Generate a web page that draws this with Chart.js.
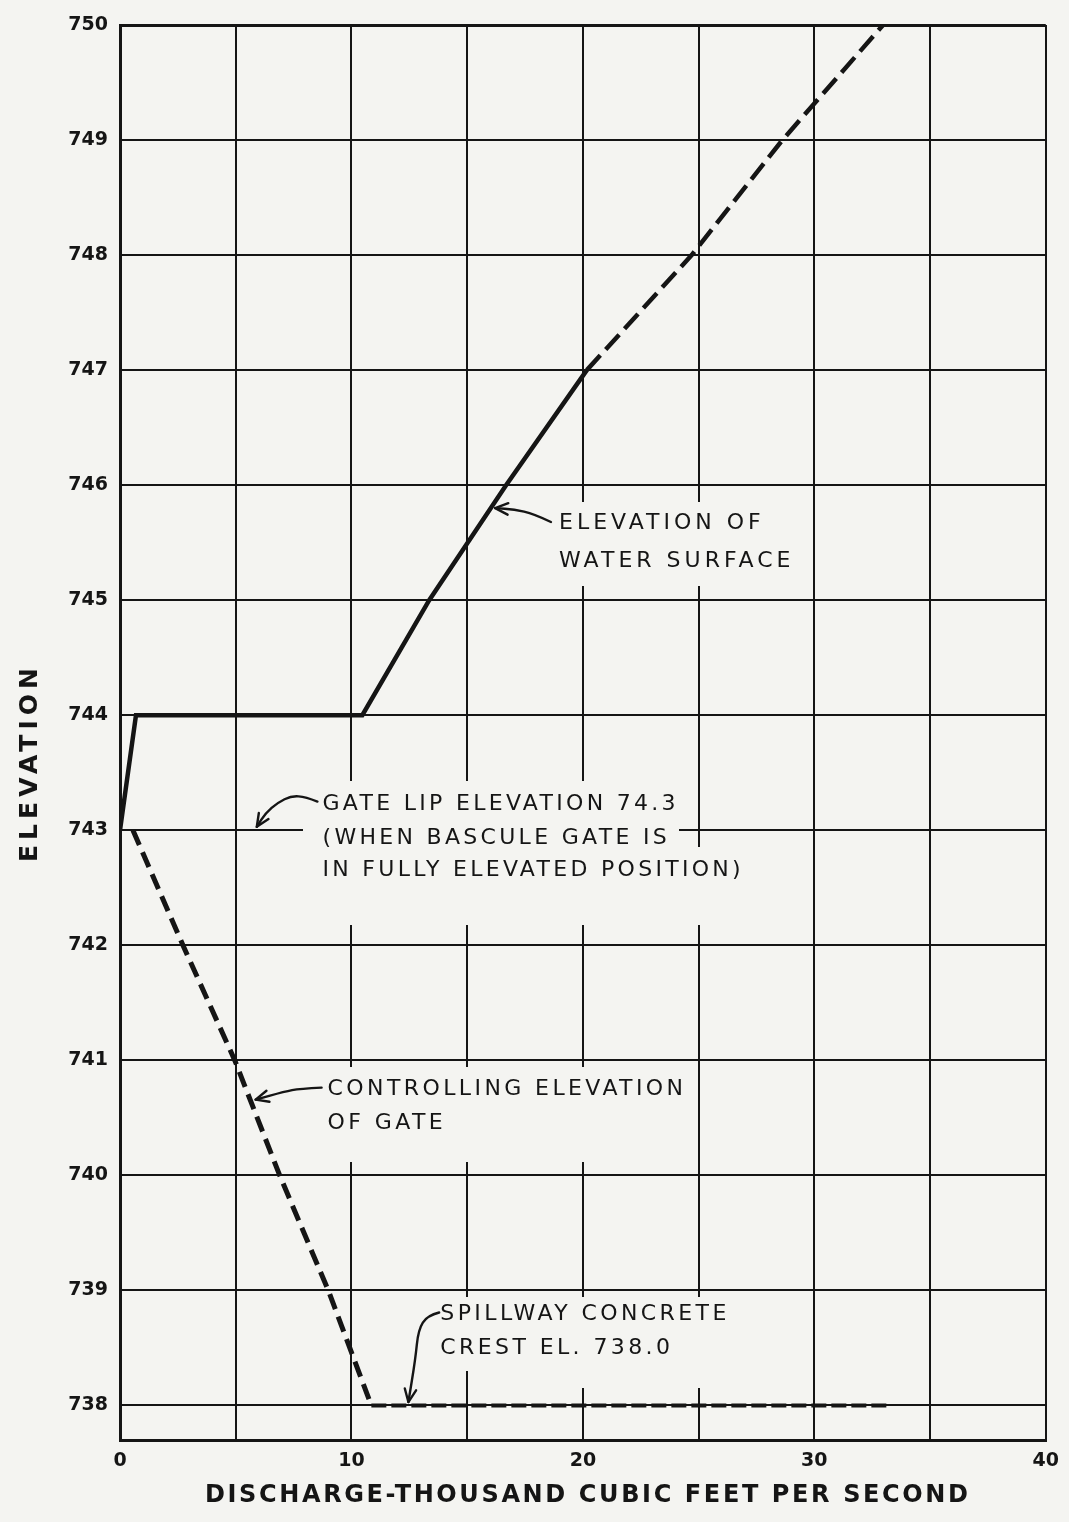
<!DOCTYPE html>
<html>
<head>
<meta charset="utf-8">
<title>Spillway discharge and elevation</title>
<script src="https://cdn.jsdelivr.net/npm/chart.js@4.4.0/dist/chart.umd.min.js"></script>
<style>
  html, body { margin: 0; padding: 0; background: #f4f4f1; }
  #wrap { width: 1069px; height: 1522px; }
</style>
</head>
<body>
<div id="wrap"><canvas id="chart" width="1069" height="1522"></canvas></div>
<script>
// Axis ticks
const xTicks = [0, 5, 10, 15, 20, 25, 30, 35, 40];
const xTickLabels = ['0', '', '10', '', '20', '', '30', '', '40'];
const yTicks = [738, 739, 740, 741, 742, 743, 744, 745, 746, 747, 748, 749, 750];

// Elevation of water surface (discharge in thousand cfs, elevation in ft)
const waterDischarge = [0, 0.69, 10.47, 13.36, 16.68, 20.17, 24.7, 28.62, 32.97];
const waterElevation = [743, 744, 744, 745, 746, 747, 748, 749, 750];
const waterDashedFrom = 20.17;   // curve is extrapolated (dashed) beyond this discharge

// Controlling elevation of gate, ending on the spillway crest
const gateDischarge = [0.56, 2.72, 4.96, 6.9, 9.0, 10.86, 33.15];
const gateElevation = [743, 742, 741, 740, 739, 738, 738];

const paperColor = '#f4f4f1';
const inkColor = '#151515';
const noteFont = '22px "DejaVu Sans", sans-serif';

// Callout notes: text, blanked-out area behind the text, and the leader arrow (all in axis units)
const notes = [
  {
    lines: ['ELEVATION OF', 'WATER SURFACE'],
    x: 18.97, y: [745.67, 745.34], spacing: 4,
    boxes: [[18.32, 745.85, 29.31, 745.13]],
    arrow: [[18.62, 745.68], [17.89, 745.75], [17.03, 745.79], [16.21, 745.80]]
  },
  {
    lines: ['GATE LIP ELEVATION 74.3', '(WHEN BASCULE GATE IS', 'IN FULLY ELEVATED POSITION)'],
    x: 8.75, y: [743.23, 742.93, 742.65], spacing: 3.3,
    boxes: [[7.93, 743.42, 24.14, 742.18], [24.0, 742.85, 27.59, 742.18]],
    arrow: [[8.53, 743.25], [8.02, 743.29], [7.41, 743.30], [6.81, 743.24], [6.29, 743.15], [5.91, 743.03]]
  },
  {
    lines: ['CONTROLLING ELEVATION', 'OF GATE'],
    x: 8.97, y: [740.75, 740.45], spacing: 3.4,
    boxes: [[8.53, 740.94, 24.91, 740.12]],
    arrow: [[8.71, 740.763], [7.76, 740.754], [7.11, 740.728], [5.86, 740.659]]
  },
  {
    lines: ['SPILLWAY CONCRETE', 'CREST EL. 738.0'],
    x: 13.84, y: [738.79, 738.50], spacing: 3.4,
    boxes: [[13.36, 738.94, 27.59, 738.30], [17.24, 738.36, 27.59, 738.16]],
    arrow: [[13.79, 738.808], [13.28, 738.782], [12.89, 738.66], [12.76, 738.40], [12.46, 738.03]]
  }
];

const toPoints = (xs, ys) => xs.map((v, i) => ({ x: v, y: ys[i] }));

const paperPlugin = {
  id: 'paper',
  beforeDraw(chart) {
    const { ctx, width, height } = chart;
    ctx.save();
    ctx.fillStyle = paperColor;
    ctx.fillRect(0, 0, width, height);
    ctx.restore();
  }
};

function drawArrow(ctx, pts) {
  ctx.beginPath();
  ctx.moveTo(pts[0][0], pts[0][1]);
  for (let i = 1; i < pts.length - 1; i++) {
    const mx = (pts[i][0] + pts[i + 1][0]) / 2;
    const my = (pts[i][1] + pts[i + 1][1]) / 2;
    ctx.quadraticCurveTo(pts[i][0], pts[i][1], mx, my);
  }
  const tip = pts[pts.length - 1];
  const prev = pts[pts.length - 2];
  ctx.lineTo(tip[0], tip[1]);
  ctx.stroke();
  const ang = Math.atan2(tip[1] - prev[1], tip[0] - prev[0]);
  const len = 14, spread = 0.42;
  ctx.beginPath();
  ctx.moveTo(tip[0] - len * Math.cos(ang - spread), tip[1] - len * Math.sin(ang - spread));
  ctx.lineTo(tip[0], tip[1]);
  ctx.lineTo(tip[0] - len * Math.cos(ang + spread), tip[1] - len * Math.sin(ang + spread));
  ctx.stroke();
}

const notesPlugin = {
  id: 'notes',
  beforeDatasetsDraw(chart) {
    const { ctx, scales: { x, y } } = chart;
    ctx.save();
    notes.forEach(n => {
      ctx.fillStyle = paperColor;
      n.boxes.forEach(b => {
        const x0 = Math.floor(x.getPixelForValue(b[0])), y0 = Math.floor(y.getPixelForValue(b[1]));
        const x1 = Math.ceil(x.getPixelForValue(b[2])), y1 = Math.ceil(y.getPixelForValue(b[3]));
        ctx.fillRect(x0, y0, x1 - x0, y1 - y0);
      });
      ctx.fillStyle = inkColor;
      ctx.font = noteFont;
      ctx.letterSpacing = n.spacing + 'px';
      ctx.textAlign = 'left';
      ctx.textBaseline = 'middle';
      n.lines.forEach((t, i) => {
        ctx.fillText(t, x.getPixelForValue(n.x), y.getPixelForValue(n.y[i]));
      });
      ctx.letterSpacing = '0px';
      ctx.strokeStyle = inkColor;
      ctx.lineWidth = 2.4;
      ctx.lineCap = 'round';
      ctx.lineJoin = 'round';
      drawArrow(ctx, n.arrow.map(p => [x.getPixelForValue(p[0]), y.getPixelForValue(p[1])]));
    });
    ctx.restore();
  }
};

function spacedText(ctx, text, left, midY, targetWidth) {
  ctx.letterSpacing = '0px';
  const w = ctx.measureText(text).width;
  const ls = Math.max(0, (targetWidth - w) / (text.length - 1));
  ctx.letterSpacing = ls + 'px';
  ctx.textAlign = 'left';
  ctx.textBaseline = 'middle';
  ctx.fillText(text, left, midY);
}

const titlesPlugin = {
  id: 'axisTitles',
  afterDraw(chart) {
    const { ctx } = chart;
    ctx.save();
    ctx.fillStyle = inkColor;
    ctx.font = 'bold 24px "DejaVu Sans", sans-serif';
    spacedText(ctx, 'DISCHARGE-THOUSAND CUBIC FEET PER SECOND', 205, 1496, 763);
    ctx.translate(30, 765);
    ctx.rotate(-Math.PI / 2);
    ctx.font = 'bold 25px "DejaVu Sans", sans-serif';
    spacedText(ctx, 'ELEVATION', -97, 0, 194);
    ctx.restore();
  }
};

const tickFont = { family: '"DejaVu Sans", sans-serif', size: 19, weight: 'bold' };

new Chart(document.getElementById('chart'), {
  type: 'line',
  data: {
    datasets: [
      {
        label: 'Elevation of water surface',
        data: toPoints(waterDischarge, waterElevation),
        borderColor: inkColor,
        borderWidth: 4.5,
        pointRadius: 0,
        tension: 0,
        fill: false,
        segment: {
          borderDash: c => (c.p0.parsed.x >= waterDashedFrom - 1e-9 ? [20, 8] : undefined)
        }
      },
      {
        label: 'Controlling elevation of gate',
        data: toPoints(gateDischarge, gateElevation),
        borderColor: inkColor,
        borderWidth: 5,
        borderDash: [16, 8],
        pointRadius: 0,
        tension: 0,
        fill: false,
        segment: {
          borderDash: c => (c.p0.parsed.y === c.p1.parsed.y ? [15, 5] : [16, 8]),
          borderWidth: c => (c.p0.parsed.y === c.p1.parsed.y ? 4 : 5)
        }
      }
    ]
  },
  options: {
    responsive: false,
    maintainAspectRatio: false,
    animation: false,
    events: [],
    layout: { padding: { top: 25, right: 21, left: 0, bottom: 0 } },
    plugins: { legend: { display: false }, tooltip: { enabled: false } },
    scales: {
      x: {
        type: 'linear',
        min: 0,
        max: 40,
        afterBuildTicks: s => { s.ticks = xTicks.map(v => ({ value: v })); },
        afterFit: s => { s.height = 82; },
        ticks: {
          autoSkip: false,
          maxRotation: 0,
          padding: 10,
          color: inkColor,
          font: tickFont,
          callback: v => xTickLabels[xTicks.indexOf(v)]
        },
        grid: {
          color: inkColor,
          lineWidth: c => (c.tick && (c.tick.value === 0) ? 3 : 2),
          drawTicks: false
        },
        border: { display: true, width: 3, color: inkColor }
      },
      y: {
        type: 'linear',
        min: 737.7,
        max: 750,
        afterBuildTicks: s => { s.ticks = yTicks.map(v => ({ value: v })); },
        afterFit: s => { s.width = 120; },
        ticks: {
          padding: 12,
          color: inkColor,
          font: tickFont,
          callback: v => String(v)
        },
        grid: {
          color: inkColor,
          lineWidth: c => (c.tick && c.tick.value === 750 ? 3 : 2),
          drawTicks: false
        },
        border: { display: true, width: 3, color: inkColor }
      }
    }
  },
  plugins: [paperPlugin, notesPlugin, titlesPlugin]
});
</script>
</body>
</html>
